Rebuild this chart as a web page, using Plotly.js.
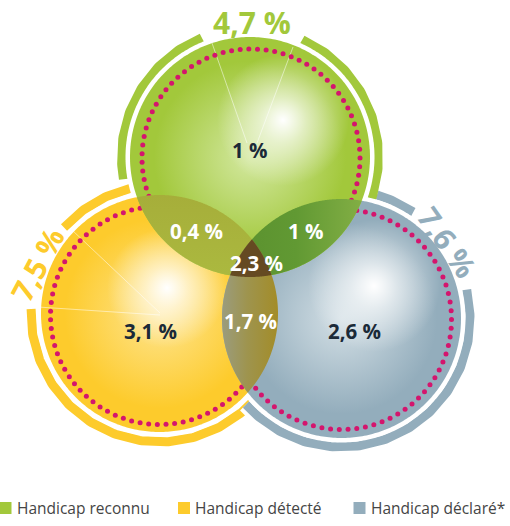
<!DOCTYPE html>
<html><head><meta charset="utf-8">
<script src="https://cdn.plot.ly/plotly-3.0.1.min.js"></script>
<style>html,body{margin:0;padding:0;background:#fff}#chart{width:510px;height:526px}</style>
</head><body><div id="chart"></div>
<script>
// ---------- DATA ----------
const sets = ['Handicap reconnu', 'Handicap détecté', 'Handicap déclaré*'];
const setTotals = [4.7, 7.5, 7.6];
const regionKeys = ['A', 'B', 'C', 'AB', 'AC', 'BC', 'ABC'];
const regionValues = [1, 3.1, 2.6, 0.4, 1, 1.7, 2.3];

// ---------- STYLE / LAYOUT GEOMETRY ----------
const setColors = ['#a2c83b', '#fdcb2c', '#93adbc'];
const lightColors = ['#d3e8a0', '#fee592', '#d3dfe5'];
const centers = [[250, 157], [159.5, 313.5], [341.5, 318.5]];
const radii = [120, 118.5, 119.5];
const ARC_R = 128.5, ARC_W = 9, WHITE_GAP = 4.5;
const dotGeo = [[1, 1, 109], [0, 2, 109], [0, 1, 110]];
const highlights = [[283, 120, 66], [167, 288, 60], [374, 286, 66]];
const arcSegments = [
  [[112, 190], [66, -19]],
  [[103, 138], [178, 318]],
  [[56, 74], [13, -138]]
];
const totalLabelPos = [[252, 22, 0], [37, 264, -62], [448, 242, 55]];
const regionLabelPos = {A: [250, 150], B: [150, 331], C: [354, 331], AB: [196, 231], AC: [306, 231], BC: [250, 321], ABC: [256, 263]};
const darkLabel = {A: true, B: true, C: true};
const legendPos = [[5.5, 508], [184, 508], [359.5, 508]];
const radialLines = [
  [[212, 43], [247, 143]], [[293, 47], [257, 143]],
  [[72, 230], [160, 313]], [[38, 307], [160, 315]]
];

function pt(c, r, deg) { const a = deg * Math.PI / 180; return [c[0] + r * Math.cos(a), c[1] - r * Math.sin(a)]; }
function arc(c, r, a1, a2) {
  const n = Math.max(2, Math.ceil(Math.abs(a2 - a1)));
  const xs = [], ys = [];
  for (let i = 0; i <= n; i++) { const p = pt(c, r, a1 + (a2 - a1) * i / n); xs.push(p[0]); ys.push(p[1]); }
  return {x: xs, y: ys};
}
function circle(c, r) { return arc(c, r, 0, 360); }
function inside(p, c, r) { return Math.hypot(p[0] - c[0], p[1] - c[1]) <= r + 1e-6; }
function intersect(disks) {
  const pts = [];
  disks.forEach((d, i) => {
    for (let k = 0; k < 1440; k++) {
      const p = pt(d[0], d[1], k / 4);
      if (disks.every((e, j) => j === i || inside(p, e[0], e[1]))) pts.push(p);
    }
  });
  const mx = pts.reduce((s, p) => s + p[0], 0) / pts.length;
  const my = pts.reduce((s, p) => s + p[1], 0) / pts.length;
  pts.sort((a, b) => Math.atan2(a[1] - my, a[0] - mx) - Math.atan2(b[1] - my, b[0] - mx));
  return {x: pts.map(p => p[0]), y: pts.map(p => p[1])};
}
const fmt = v => String(v).replace('.', ',') + '\u00a0%';

const traces = [];
// outer arcs: yellow, blue, green
[1, 2, 0].forEach(i => {
  arcSegments[i].forEach(seg => {
    const a = arc(centers[i], ARC_R, seg[0], seg[1]);
    if (i === 2) traces.push({x: a.x, y: a.y, mode: 'lines', line: {color: '#ffffff', width: ARC_W + 8}, hoverinfo: 'skip'});
    traces.push({x: a.x, y: a.y, mode: 'lines', line: {color: setColors[i], width: ARC_W}, hoverinfo: 'skip'});
  });
});
// white gaps
centers.forEach((c, i) => { const a = circle(c, radii[i] + WHITE_GAP); traces.push({x: a.x, y: a.y, mode: 'none', fill: 'toself', fillcolor: '#ffffff', hoverinfo: 'skip'}); });
// base fills
[1, 2, 0].forEach(i => {
  const a = circle(centers[i], radii[i]);
  traces.push({x: a.x, y: a.y, mode: 'none', fill: 'toself', fillcolor: setColors[i],
    fillgradient: {type: 'radial', colorscale: [[0, lightColors[i]], [0.8, setColors[i]], [1, setColors[i]]]}, hoverinfo: 'skip'});
});
// highlights
highlights.forEach(h => {
  const a = circle([h[0], h[1]], h[2]);
  traces.push({x: a.x, y: a.y, mode: 'none', fill: 'toself', fillcolor: 'rgba(255,255,255,0)',
    fillgradient: {type: 'radial', colorscale: [[0, 'rgba(255,255,255,1)'], [0.35, 'rgba(255,255,255,0.6)'], [1, 'rgba(255,255,255,0)']]}, hoverinfo: 'skip'});
});
// faint radial lines
radialLines.forEach(l => traces.push({x: [l[0][0], l[1][0]], y: [l[0][1], l[1][1]], mode: 'lines', line: {color: 'rgba(255,255,255,0.5)', width: 1}, hoverinfo: 'skip'}));
// dotted circles
centers.forEach((c, i) => {
  const g = dotGeo[i], xs = [], ys = [];
  const n = Math.round(2 * Math.PI * g[2] / 8.7);
  for (let k = 0; k < n; k++) { const p = pt([c[0] + g[0], c[1] + g[1]], g[2], k * 360 / n); xs.push(p[0]); ys.push(p[1]); }
  traces.push({x: xs, y: ys, mode: 'markers', marker: {color: '#d4156d', size: 5}, hoverinfo: 'skip'});
});
// lenses
const D = centers.map((c, i) => [c, radii[i]]);
const lensStyles = [
  {sets: [0, 1], color: '#a8b43c', grad: {type: 'vertical', colorscale: [[0, '#abb93f'], [1, '#a6ae3a']]}},
  {sets: [0, 2], color: '#6a9d36', grad: {type: 'horizontal', colorscale: [[0, '#5a902e'], [0.5, '#619933'], [1, '#82ae44']]}},
  {sets: [1, 2], color: '#9e9448', grad: {type: 'horizontal', colorscale: [[0, '#9b9c7e'], [0.45, '#9e944e'], [1, '#a38c28']]}},
  {sets: [0, 1, 2], color: '#654a22', grad: null}
];
lensStyles.forEach(s => {
  const a = intersect(s.sets.map(i => D[i]));
  const t = {x: a.x, y: a.y, mode: 'none', fill: 'toself', fillcolor: s.color, hoverinfo: 'skip'};
  if (s.grad) t.fillgradient = s.grad;
  traces.push(t);
});
// legend squares
traces.push({x: legendPos.map(p => p[0]), y: legendPos.map(p => p[1]), mode: 'markers',
  marker: {symbol: 'square', size: 12, color: setColors}, hoverinfo: 'skip'});

const annotations = [];
setTotals.forEach((v, i) => annotations.push({x: totalLabelPos[i][0], y: totalLabelPos[i][1], text: fmt(v), textangle: totalLabelPos[i][2],
  showarrow: false, xanchor: 'center', yanchor: 'middle', font: {family: 'Open Sans', size: 30, weight: 700, color: setColors[i]}}));
regionKeys.forEach((k, i) => annotations.push({x: regionLabelPos[k][0], y: regionLabelPos[k][1], text: fmt(regionValues[i]),
  showarrow: false, xanchor: 'center', yanchor: 'middle', font: {family: 'Open Sans', size: 20.5, weight: 700, color: darkLabel[k] ? '#1b2a38' : '#ffffff'}}));
sets.forEach((s, i) => annotations.push({x: legendPos[i][0] + 9, y: legendPos[i][1], text: s, showarrow: false, xanchor: 'left', yanchor: 'middle',
  font: {family: 'Open Sans', size: 15.5, color: '#454545'}}));

const ax = {range: [0, 510], visible: false, showgrid: false, zeroline: false, fixedrange: true};
Plotly.newPlot('chart', traces, {
  width: 510, height: 526, margin: {l: 0, r: 0, t: 0, b: 0}, showlegend: false,
  paper_bgcolor: '#ffffff', plot_bgcolor: '#ffffff',
  xaxis: ax, yaxis: Object.assign({}, ax, {range: [526, 0]}),
  annotations: annotations, hovermode: false
}, {displayModeBar: false, staticPlot: true});
</script></body></html>
